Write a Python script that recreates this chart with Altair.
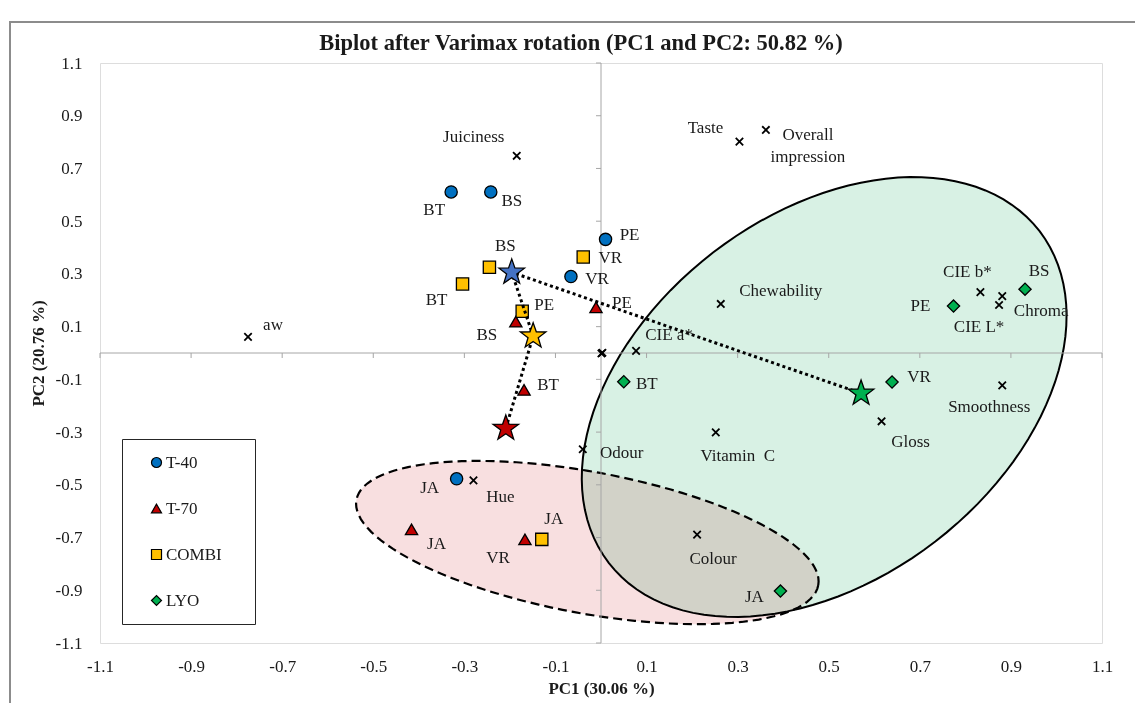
import math
import altair as alt
import pandas as pd

# ---------------- data ----------------
groups = ["T-40", "T-70", "COMBI", "LYO"]
group_colors = ["#0070C0", "#C00000", "#FFC000", "#00B050"]
group_shapes = ["circle", "triangle-up", "square", "diamond"]

t40_labels = ["BT", "BS", "PE", "VR", "JA"]
t40_pc1 = [-0.329, -0.242, 0.010, -0.066, -0.317]
t40_pc2 = [0.611, 0.611, 0.431, 0.290, -0.477]

t70_labels = ["BS", "PE", "BT", "JA", "VR"]
t70_pc1 = [-0.187, -0.011, -0.169, -0.416, -0.167]
t70_pc2 = [0.119, 0.173, -0.140, -0.669, -0.707]

combi_labels = ["BS", "BT", "PE", "VR", "JA"]
combi_pc1 = [-0.245, -0.304, -0.173, -0.039, -0.130]
combi_pc2 = [0.325, 0.262, 0.158, 0.364, -0.707]

lyo_labels = ["BT", "PE", "BS", "VR", "JA"]
lyo_pc1 = [0.050, 0.774, 0.931, 0.639, 0.394]
lyo_pc2 = [-0.109, 0.178, 0.242, -0.110, -0.903]

# group centroids (stars), in the order the dotted path joins them
centroid_groups = ["T-70", "COMBI", "T-40", "LYO"]
centroid_pc1 = [-0.209, -0.149, -0.196, 0.571]
centroid_pc2 = [-0.286, 0.064, 0.306, -0.153]

# variables (x markers)
var_labels = ["Juiciness", "Taste", "Overall\nimpression", "aw", "Chewability",
              "CIE a*", "CIE b*", "Chroma", "CIE L*", "Smoothness", "Gloss",
              "Vitamin\u00a0 C", "Odour", "Colour", "Hue", "", ""]
var_pc1 = [-0.185, 0.304, 0.362, -0.775, 0.263, 0.077, 0.833, 0.881, 0.874,
           0.881, 0.616, 0.252, -0.040, 0.211, -0.280, 0.003, 0.001]
var_pc2 = [0.748, 0.802, 0.846, 0.061, 0.186, 0.008, 0.231, 0.216, 0.182,
           -0.123, -0.259, -0.301, -0.365, -0.689, -0.483, 0.001, -0.002]

tick_vals = [-1.1, -0.9, -0.7, -0.5, -0.3, -0.1, 0.1, 0.3, 0.5, 0.7, 0.9, 1.1]

# confidence ellipses: centre and two conjugate semi-diameters (data units)
green_center = (0.490, -0.167)
green_u = (0.473, 0.629)
green_v = (-0.244, 0.548)
red_center = (-0.030, -0.719)
red_u = (0.507, -0.162)
red_v = (0.028, 0.264)

# ---------------- styles ----------------
star_colors = ["#C00000", "#FFC000", "#4472C4", "#00B050"]
FONT = "Liberation Serif"
TXT = "#1a1a1a"
STAR = ("M0,-1L0.235,-0.324L0.951,-0.309L0.380,0.124L0.588,0.809L0,0.40"
        "L-0.588,0.809L-0.380,0.124L-0.951,-0.309L-0.235,-0.324Z")
XMARK = "M-1,-1L1,1M-1,1L1,-1"

# label offsets in pixels (dx, dy) from the marker to the label centre
t40_off = [(-17, 18), (21, 9), (24, -4), (26, 2), (-27, 9)]
t70_off = [(-29, 13), (26, -4), (24, -5), (25, 15), (-27, 19)]
combi_off = [(16, -21), (-26, 16), (22, -6), (27, 1), (12, -20)]
lyo_off = [(23, 2), (-33, 0), (14, -18), (27, -5), (-26, 6)]
var_off = [(-43, -19), (-34, -14), (42, 5), (25, -12), (60, -13), (33, -16),
           (-13, -20), (39, 15), (-20, 22), (-13, 22), (29, 21), (22, 24),
           (39, 4), (16, 24), (27, 17), (0, 0), (0, 0)]

# ---------------- tables ----------------
rows = []
label_rows = []
for g, labs, xs_, ys_, offs in [("T-40", t40_labels, t40_pc1, t40_pc2, t40_off),
                                ("T-70", t70_labels, t70_pc1, t70_pc2, t70_off),
                                ("COMBI", combi_labels, combi_pc1, combi_pc2, combi_off),
                                ("LYO", lyo_labels, lyo_pc1, lyo_pc2, lyo_off)]:
    for l, x, y, o in zip(labs, xs_, ys_, offs):
        rows.append({"group": g, "label": l, "x": x, "y": y})
        label_rows.append((x, y, l, o))
pts = pd.DataFrame(rows)

for l, x, y, o in zip(var_labels, var_pc1, var_pc2, var_off):
    if l:
        label_rows.append((x, y, l, o))
vdf = pd.DataFrame({"x": var_pc1, "y": var_pc2, "label": var_labels})

cent = pd.DataFrame({"group": centroid_groups, "x": centroid_pc1,
                     "y": centroid_pc2, "k": list(range(len(centroid_groups)))})


def ellipse(center, u, v):
    recs = []
    for i in range(0, 361, 3):
        t = math.radians(i)
        recs.append({"i": i,
                     "x": center[0] + u[0] * math.cos(t) + v[0] * math.sin(t),
                     "y": center[1] + u[1] * math.cos(t) + v[1] * math.sin(t)})
    return pd.DataFrame(recs)


green_df = ellipse(green_center, green_u, green_v)
red_df = ellipse(red_center, red_u, red_v)

# ---------------- scales & axes ----------------
xsc = alt.Scale(domain=[-1.1, 1.1], nice=False, zero=False)
ysc = alt.Scale(domain=[-1.1, 1.1], nice=False, zero=False)
x_axis = alt.Axis(values=tick_vals, labelExpr="'' + datum.value", title="PC1 (30.06 %)",
                  ticks=False, domain=False, grid=False, labelFlush=False,
                  labelOverlap=False, labelFont=FONT, labelFontSize=17, labelColor=TXT,
                  labelPadding=15, titleFont=FONT, titleFontSize=17,
                  titleFontWeight="bold", titleColor=TXT, titlePadding=6)
y_axis = alt.Axis(values=tick_vals, labelExpr="'' + datum.value", title="PC2 (20.76 %)",
                  ticks=False, domain=False, grid=False, labelOverlap=False,
                  labelFont=FONT, labelFontSize=17, labelColor=TXT, labelPadding=18,
                  titleFont=FONT, titleFontSize=17, titleFontWeight="bold",
                  titleColor=TXT, titlePadding=8)


def X(f="x"):
    return alt.X(f + ":Q", scale=xsc, axis=x_axis)


def Y(f="y"):
    return alt.Y(f + ":Q", scale=ysc, axis=y_axis)


legend = alt.Legend(title=" ", titleOrient="right", titlePadding=18, titleFontSize=17,
                    orient="none", legendX=22, legendY=376,
                    direction="vertical", strokeColor="#262626", fillColor="white",
                    padding=15, rowPadding=28, symbolOffset=11, labelFont=FONT,
                    labelFontSize=17, labelColor=TXT, labelOffset=1, symbolSize=100,
                    symbolStrokeColor="black", symbolStrokeWidth=1.2)

layers = []

layers.append(alt.Chart(green_df).mark_line(
    fill="#d8f1e4", stroke="black", strokeWidth=2, interpolate="linear").encode(
    x=X(), y=Y(), order="i:Q"))
layers.append(alt.Chart(red_df).mark_line(
    fill="#f8dfe0", stroke="black", strokeWidth=2.2, strokeDash=[9, 5],
    interpolate="linear", blend="multiply").encode(x=X(), y=Y(), order="i:Q"))

# zero axes with tick marks
layers.append(alt.Chart(pd.DataFrame({"a": [0]})).mark_rule(
    color="#a6a6a6", strokeWidth=1).encode(
    x=alt.X(datum=0, scale=xsc, axis=x_axis), y=alt.Y(datum=-1.1, scale=ysc, axis=y_axis),
    y2=alt.Y2(datum=1.1)))
layers.append(alt.Chart(pd.DataFrame({"a": [0]})).mark_rule(
    color="#a6a6a6", strokeWidth=1).encode(
    y=alt.Y(datum=0, scale=ysc, axis=y_axis), x=alt.X(datum=-1.1, scale=xsc, axis=x_axis),
    x2=alt.X2(datum=1.1)))
layers.append(alt.Chart(pd.DataFrame({"x": tick_vals, "y": [0] * len(tick_vals)})).mark_tick(
    orient="vertical", size=5, thickness=1, yOffset=2.5, color="#a6a6a6", opacity=1).encode(
    x=X(), y=Y()))
layers.append(alt.Chart(pd.DataFrame({"y": tick_vals, "x": [0] * len(tick_vals)})).mark_tick(
    orient="horizontal", size=5, thickness=1, xOffset=-2.5, color="#a6a6a6", opacity=1).encode(
    x=X(), y=Y()))

# samples
layers.append(alt.Chart(pts).mark_point(
    filled=True, size=150, stroke="black", strokeWidth=1.3, opacity=1).encode(
    x=X(), y=Y(),
    color=alt.Color("group:N", scale=alt.Scale(domain=groups, range=group_colors), legend=legend),
    shape=alt.Shape("group:N", scale=alt.Scale(domain=groups, range=group_shapes), legend=legend)))

# variables
layers.append(alt.Chart(vdf).mark_point(
    shape=XMARK, size=55, color="black", strokeWidth=1.8, filled=False, opacity=1).encode(
    x=X(), y=Y()))

# dotted path joining centroids
layers.append(alt.Chart(cent).mark_line(
    color="black", strokeWidth=3, strokeDash=[3, 3]).encode(x=X(), y=Y(), order="k:Q"))

# centroid stars
layers.append(alt.Chart(cent).mark_point(
    filled=True, shape=STAR, size=720, stroke="black", strokeWidth=1.3, opacity=1).encode(
    x=X(), y=Y(),
    fill=alt.Fill("group:N", scale=alt.Scale(domain=centroid_groups, range=star_colors),
                  legend=None)))

# labels
for x, y, l, (dx, dy) in label_rows:
    layers.append(alt.Chart(pd.DataFrame({"x": [x], "y": [y], "t": [l]})).mark_text(
        font=FONT, fontSize=17, color=TXT, dx=dx, dy=dy, align="center",
        baseline="middle", lineBreak="\n", lineHeight=22).encode(
        x=X(), y=Y(), text="t:N"))

# outer chart frame (left and top edges)
layers.append(alt.Chart(pd.DataFrame({"a": [0]})).mark_rule(
    color="#8c8c8c", strokeWidth=2).encode(
    x=alt.value(-90), y=alt.value(-41), y2=alt.value(660)))
layers.append(alt.Chart(pd.DataFrame({"a": [0]})).mark_rule(
    color="#8c8c8c", strokeWidth=2).encode(
    y=alt.value(-41), x=alt.value(-91), x2=alt.value(1043)))

chart = alt.layer(*layers).properties(
    width=1002, height=580,
    padding={"left": 92, "top": 55, "right": 33, "bottom": 60},
    autosize=alt.AutoSizeParams(type="none"),
    title=alt.Title("Biplot after Varimax rotation (PC1 and PC2: 50.82 %)",
                    font=FONT, fontSize=22.5, fontWeight="bold", color=TXT,
                    anchor="middle", frame="group", dx=-20, offset=-33),
).configure_view(stroke="#262626", strokeWidth=1).configure(background="white")

chart.save("out.html", embed_options={"renderer": "svg", "actions": False})
